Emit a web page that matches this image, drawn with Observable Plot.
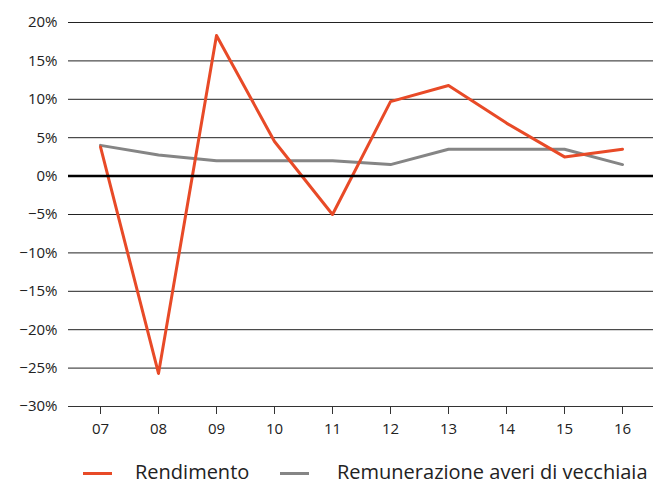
<!DOCTYPE html>
<html>
<head>
<meta charset="utf-8">
<script src="https://cdn.jsdelivr.net/npm/d3@7"></script>
<script src="https://cdn.jsdelivr.net/npm/@observablehq/plot@0.6"></script>
<style>
  body { margin: 0; background: #fff; font-family: "Open Sans", "Noto Sans", sans-serif; }
  #chart svg { display: block; }
  .legend { position: relative; height: 34px; font-size: 20px; color: #222; }
  .legend .sw { position: absolute; top: 22px; width: 29px; height: 3px; }
  .legend .lab { position: absolute; top: 9px; line-height: 26px; white-space: nowrap; }
</style>
</head>
<body>
<div id="chart"></div>
<div class="legend">
  <span class="sw" style="left:83px;background:#E84A27"></span><span class="lab" style="left:135px">Rendimento</span>
  <span class="sw" style="left:280px;background:#858585"></span><span class="lab" style="left:337px">Remunerazione averi di vecchiaia</span>
</div>
<script>
const years = ["07", "08", "09", "10", "11", "12", "13", "14", "15", "16"];
const rendimento = [3.8, -25.7, 18.3, 4.5, -5.0, 9.7, 11.8, 6.9, 2.5, 3.5];
const remunerazione = [4.0, 2.75, 2.0, 2.0, 2.0, 1.5, 3.5, 3.5, 3.5, 1.5];
const yTicks = [-30, -25, -20, -15, -10, -5, 0, 5, 10, 15, 20];

const rows = [];
years.forEach((y, i) => {
  rows.push({year: y, value: rendimento[i], series: "Rendimento"});
  rows.push({year: y, value: remunerazione[i], series: "Remunerazione averi di vecchiaia"});
});

const fmt = d => (d < 0 ? "\u2212" + Math.abs(d) : d) + "%";

const chart = Plot.plot({
  width: 665,
  height: 450,
  marginLeft: 68,
  marginRight: 12,
  marginTop: 22,
  marginBottom: 44,
  style: {fontFamily: "'Open Sans', 'Noto Sans', sans-serif", fontSize: "15px", color: "#222"},
  x: {type: "point", domain: years, padding: 0.5, label: null, tickSize: 8, tickPadding: 9},
  y: {domain: [-30, 20], ticks: yTicks, tickFormat: fmt, label: null, tickSize: 0, tickPadding: 11},
  color: {domain: ["Rendimento", "Remunerazione averi di vecchiaia"], range: ["#E84A27", "#858585"]},
  marks: [
    Plot.ruleY(yTicks.filter(d => d !== 0 && d !== -30), {stroke: "#222", strokeWidth: 1}),
    Plot.ruleY([-30], {stroke: "#333", strokeWidth: 1}),
    Plot.line(rows, {x: "year", y: "value", stroke: "series", strokeWidth: 3, filter: d => d.series !== "Rendimento"}),
    Plot.line(rows, {x: "year", y: "value", stroke: "series", strokeWidth: 3, filter: d => d.series === "Rendimento"}),
    Plot.ruleY([0], {stroke: "#000", strokeWidth: 2.5}),
    Plot.axisX({tickSize: 8, tickPadding: 9, stroke: "#333"}),
    Plot.axisY({ticks: yTicks, tickFormat: fmt, tickSize: 0, tickPadding: 11})
  ]
});
document.getElementById("chart").appendChild(chart);
</script>
</body>
</html>
